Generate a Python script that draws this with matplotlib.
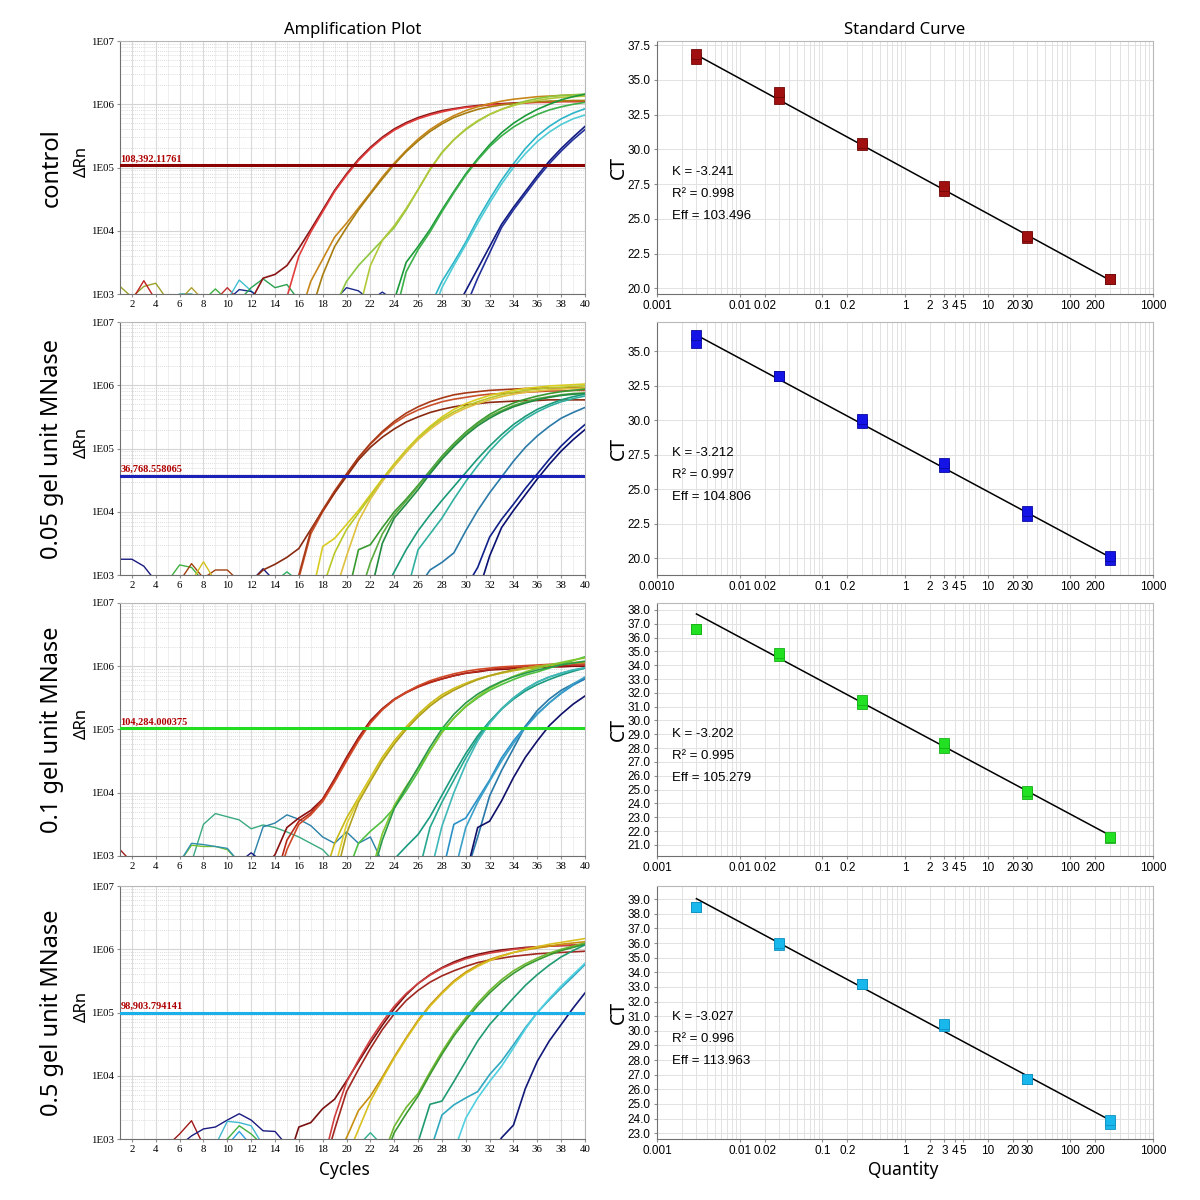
import matplotlib.pyplot as plt
from matplotlib import font_manager
from matplotlib.ticker import LogLocator, NullFormatter, MultipleLocator, FormatStrFormatter
import numpy as np

# ---------------- amplification data: log10(dRn) per cycle ----------------
# each curve starts at its own cycle and runs to cycle 40

ctrl_start = [12, 14, 16, 17, 19, 21, 24, 24, 27, 27, 29, 30]
ctrl_curves = [
    [2.9, 3.25, 3.31, 3.45, 3.72, 4.02, 4.33, 4.64, 4.9, 5.13, 5.32, 5.48, 5.61, 5.71, 5.79, 5.85, 5.9, 5.93, 5.96, 5.98, 6.0, 6.01, 6.02, 6.03, 6.04, 6.04, 6.05, 6.05, 6.05],
    [2.5, 2.95, 3.6, 3.98, 4.3, 4.62, 4.88, 5.11, 5.3, 5.46, 5.59, 5.69, 5.77, 5.83, 5.88, 5.92, 5.95, 5.97, 5.99, 6.0, 6.01, 6.02, 6.03, 6.03, 6.04, 6.04, 6.04],
    [2.6, 3.2, 3.55, 3.9, 4.12, 4.36, 4.6, 4.85, 5.07, 5.27, 5.45, 5.6, 5.72, 5.82, 5.9, 5.96, 6.01, 6.05, 6.08, 6.1, 6.12, 6.13, 6.14, 6.15, 6.15],
    [2.7, 3.3, 3.75, 4.05, 4.33, 4.58, 4.82, 5.05, 5.25, 5.42, 5.57, 5.69, 5.79, 5.86, 5.92, 5.96, 5.99, 6.01, 6.03, 6.04, 6.05, 6.05, 6.06, 6.06],
    [2.8, 3.2, 3.45, 3.65, 3.85, 4.05, 4.33, 4.65, 4.97, 5.24, 5.44, 5.6, 5.73, 5.84, 5.92, 5.99, 6.05, 6.09, 6.12, 6.14, 6.15, 6.16],
    [2.7, 3.45, 3.85, 4.08, 4.35, 4.65, 4.97, 5.23, 5.44, 5.61, 5.74, 5.84, 5.92, 5.98, 6.03, 6.06, 6.09, 6.11, 6.12, 6.13],
    [2.9, 3.5, 3.75, 4.02, 4.33, 4.62, 4.9, 5.14, 5.36, 5.55, 5.7, 5.82, 5.92, 6.0, 6.07, 6.12, 6.16],
    [2.6, 3.35, 3.7, 3.98, 4.3, 4.6, 4.88, 5.12, 5.33, 5.5, 5.64, 5.75, 5.84, 5.91, 5.96, 6.0, 6.03],
    [2.8, 3.2, 3.5, 3.82, 4.18, 4.5, 4.8, 5.06, 5.3, 5.5, 5.65, 5.77, 5.86, 5.93],
    [2.6, 3.1, 3.45, 3.78, 4.12, 4.44, 4.74, 5.0, 5.22, 5.41, 5.56, 5.68, 5.77, 5.83],
    [2.7, 3.05, 3.4, 3.75, 4.1, 4.37, 4.62, 4.87, 5.1, 5.3, 5.48, 5.65],
    [2.8, 3.25, 3.65, 4.05, 4.33, 4.58, 4.83, 5.06, 5.26, 5.44, 5.6],
]
ctrl_noise_start = [1, 2, 5, 6, 8, 9, 10, 10, 11, 19, 22]
ctrl_noise = [
    [3.12, 2.95, 3.12, 3.17, 2.9],
    [2.9, 3.21, 2.9],
    [2.9, 3.0, 3.0, 2.9],
    [2.9, 3.1, 2.9],
    [2.9, 3.08, 2.9],
    [2.9, 3.1, 2.9],
    [2.9, 3.22, 3.05, 2.9],
    [2.9, 3.07, 3.04, 2.9],
    [2.9, 3.1, 3.24, 3.1, 3.15, 2.9],
    [2.9, 3.1, 3.05, 2.9],
    [2.9, 3.03, 2.9],
]

mn005_start = [15, 12, 15, 17, 18, 19, 20, 21, 22, 23, 25, 26, 30, 31]
mn005_curves = [
    [2.5, 2.95, 3.65, 4.0, 4.3, 4.58, 4.85, 5.07, 5.25, 5.4, 5.52, 5.61, 5.68, 5.74, 5.78, 5.81, 5.84, 5.86, 5.87, 5.88, 5.89, 5.9, 5.91, 5.91, 5.92, 5.92],
    [2.9, 3.08, 3.17, 3.28, 3.42, 3.72, 4.02, 4.3, 4.56, 4.82, 5.02, 5.18, 5.31, 5.42, 5.5, 5.57, 5.62, 5.66, 5.69, 5.71, 5.73, 5.74, 5.75, 5.76, 5.76, 5.77, 5.77, 5.77, 5.77],
    [2.6, 3.0, 3.7, 4.03, 4.33, 4.6, 4.86, 5.08, 5.27, 5.43, 5.56, 5.66, 5.74, 5.8, 5.85, 5.88, 5.9, 5.92, 5.93, 5.94, 5.95, 5.95, 5.96, 5.96, 5.96, 5.96],
    [2.6, 3.45, 3.58, 3.8, 4.02, 4.27, 4.52, 4.76, 4.98, 5.18, 5.35, 5.5, 5.62, 5.71, 5.78, 5.84, 5.88, 5.92, 5.95, 5.97, 5.99, 6.0, 6.01, 6.02],
    [2.8, 3.35, 3.72, 3.98, 4.24, 4.5, 4.74, 4.96, 5.16, 5.33, 5.47, 5.58, 5.67, 5.74, 5.8, 5.85, 5.89, 5.92, 5.94, 5.96, 5.97, 5.98, 5.99],
    [2.7, 3.3, 3.85, 4.2, 4.48, 4.72, 4.94, 5.14, 5.3, 5.44, 5.55, 5.64, 5.71, 5.77, 5.82, 5.86, 5.89, 5.91, 5.93, 5.94, 5.95, 5.96],
    [2.6, 3.4, 3.48, 3.75, 4.0, 4.2, 4.42, 4.65, 4.88, 5.08, 5.26, 5.41, 5.54, 5.64, 5.72, 5.78, 5.83, 5.87, 5.9, 5.92, 5.94],
    [2.6, 3.2, 3.65, 3.95, 4.17, 4.4, 4.63, 4.86, 5.06, 5.24, 5.39, 5.51, 5.6, 5.68, 5.74, 5.79, 5.82, 5.85, 5.87, 5.88],
    [2.7, 3.5, 3.9, 4.12, 4.35, 4.6, 4.83, 5.03, 5.21, 5.36, 5.48, 5.58, 5.66, 5.72, 5.77, 5.81, 5.84, 5.86, 5.87],
    [2.7, 3.05, 3.4, 3.7, 3.95, 4.18, 4.4, 4.62, 4.84, 5.04, 5.22, 5.38, 5.51, 5.62, 5.7, 5.77, 5.82, 5.86],
    [2.7, 3.4, 3.65, 3.9, 4.2, 4.48, 4.73, 4.96, 5.16, 5.33, 5.47, 5.58, 5.67, 5.74, 5.79, 5.83],
    [2.8, 3.08, 3.2, 3.35, 3.7, 4.02, 4.3, 4.55, 4.8, 5.02, 5.2, 5.35, 5.48, 5.57, 5.65],
    [2.8, 3.12, 3.6, 3.88, 4.12, 4.37, 4.6, 4.83, 5.04, 5.22, 5.38],
    [2.7, 3.3, 3.75, 4.02, 4.27, 4.52, 4.75, 4.96, 5.14, 5.3],
]
mn005_noise_start = [1, 5, 6, 7, 12, 14]
mn005_noise = [
    [3.25, 3.25, 3.14, 2.9],
    [2.9, 3.16, 3.12, 2.9],
    [2.9, 3.18, 2.95, 3.08, 3.08, 2.9],
    [2.9, 3.21, 2.9],
    [2.9, 3.1, 2.9],
    [2.9, 3.05, 2.9],
]

mn01_start = [13, 14, 14, 18, 19, 19, 20, 22, 22, 23, 26, 27, 28, 30, 29, 30]
mn01_curves = [
    [2.8, 3.02, 3.45, 3.6, 3.72, 3.9, 4.22, 4.56, 4.87, 5.14, 5.33, 5.48, 5.59, 5.68, 5.75, 5.8, 5.85, 5.89, 5.91, 5.94, 5.95, 5.96, 5.97, 5.98, 5.99, 5.99, 6.0, 6.0],
    [2.6, 3.25, 3.55, 3.68, 3.9, 4.2, 4.54, 4.85, 5.12, 5.32, 5.47, 5.58, 5.67, 5.74, 5.8, 5.85, 5.89, 5.92, 5.95, 5.97, 5.98, 5.99, 6.0, 6.01, 6.01, 6.02, 6.02],
    [2.5, 3.1, 3.5, 3.65, 3.86, 4.17, 4.5, 4.82, 5.1, 5.31, 5.47, 5.59, 5.69, 5.77, 5.83, 5.88, 5.92, 5.95, 5.97, 5.99, 6.0, 6.01, 6.02, 6.03, 6.04, 6.05, 6.05],
    [2.6, 3.2, 3.6, 3.92, 4.24, 4.56, 4.82, 5.04, 5.24, 5.41, 5.55, 5.65, 5.73, 5.8, 5.85, 5.89, 5.93, 5.96, 5.98, 6.01, 6.03, 6.05, 6.07],
    [2.8, 3.5, 3.9, 4.22, 4.52, 4.79, 5.01, 5.21, 5.38, 5.52, 5.63, 5.72, 5.79, 5.85, 5.9, 5.94, 5.97, 6.0, 6.02, 6.04, 6.06, 6.07],
    [2.6, 3.35, 3.85, 4.18, 4.5, 4.77, 5.0, 5.2, 5.37, 5.51, 5.62, 5.71, 5.79, 5.85, 5.9, 5.94, 5.97, 6.0, 6.02, 6.04, 6.05, 6.06],
    [2.7, 3.2, 3.39, 3.55, 3.76, 4.03, 4.33, 4.66, 4.96, 5.18, 5.36, 5.5, 5.62, 5.71, 5.79, 5.86, 5.91, 5.97, 6.03, 6.09, 6.15],
    [2.7, 3.35, 3.8, 4.1, 4.38, 4.66, 4.95, 5.18, 5.37, 5.52, 5.65, 5.75, 5.84, 5.91, 5.97, 6.02, 6.06, 6.1, 6.13],
    [2.6, 3.25, 3.75, 4.08, 4.4, 4.72, 5.01, 5.24, 5.42, 5.56, 5.67, 5.76, 5.83, 5.89, 5.94, 5.98, 6.02, 6.05, 6.08],
    [2.8, 2.95, 3.15, 3.34, 3.62, 3.96, 4.3, 4.62, 4.9, 5.13, 5.32, 5.48, 5.61, 5.71, 5.79, 5.86, 5.92, 5.97],
    [2.7, 3.45, 3.85, 4.2, 4.55, 4.86, 5.12, 5.33, 5.5, 5.64, 5.75, 5.83, 5.89, 5.94, 5.97],
    [2.7, 3.47, 4.0, 4.45, 4.82, 5.1, 5.32, 5.5, 5.64, 5.75, 5.83, 5.89, 5.94, 5.98],
    [2.7, 3.5, 3.6, 3.9, 4.2, 4.55, 4.82, 5.05, 5.25, 5.42, 5.57, 5.7, 5.8],
    [2.7, 3.3, 3.95, 4.35, 4.7, 5.05, 5.3, 5.48, 5.62, 5.72, 5.8],
    [2.7, 3.45, 3.85, 4.18, 4.5, 4.78, 5.03, 5.24, 5.42, 5.58, 5.72, 5.83],
    [2.7, 3.45, 3.55, 3.87, 4.24, 4.56, 4.82, 5.06, 5.24, 5.4, 5.53],
]
mn01_noise_start = [7, 12, 6, 6, 1, 11]
mn01_noise = [
    [2.9, 3.5, 3.67, 3.62, 3.57, 3.43, 3.49, 3.45, 3.38, 3.3, 3.2, 3.1, 2.9],
    [2.9, 3.46, 3.52, 3.65, 3.58, 3.48, 3.3, 3.2, 3.38, 3.2, 3.3, 2.9],
    [2.9, 3.17, 3.15, 3.15, 3.1, 2.9],
    [2.9, 3.2, 3.18, 3.15, 3.12, 2.9],
    [3.1, 2.9],
    [2.9, 3.05, 2.9],
]

mn05_start = [15, 18, 18, 19, 20, 23, 23, 25, 27, 29, 32]
mn05_curves = [
    [2.6, 3.19, 3.26, 3.48, 3.63, 3.92, 4.22, 4.52, 4.8, 5.06, 5.28, 5.46, 5.6, 5.71, 5.8, 5.87, 5.92, 5.96, 5.99, 6.01, 6.03, 6.04, 6.05, 6.06, 6.06, 6.07],
    [2.6, 3.35, 3.9, 4.25, 4.57, 4.85, 5.1, 5.3, 5.46, 5.59, 5.7, 5.78, 5.85, 5.9, 5.94, 5.97, 6.0, 6.02, 6.04, 6.05, 6.06, 6.07, 6.08],
    [2.5, 3.15, 3.75, 4.1, 4.43, 4.73, 4.98, 5.19, 5.35, 5.48, 5.58, 5.66, 5.73, 5.79, 5.83, 5.86, 5.89, 5.91, 5.93, 5.94, 5.95, 5.96, 5.97],
    [2.7, 3.02, 3.45, 3.68, 3.98, 4.3, 4.6, 4.88, 5.12, 5.32, 5.5, 5.64, 5.75, 5.84, 5.9, 5.95, 5.99, 6.02, 6.05, 6.08, 6.1, 6.12],
    [2.7, 3.15, 3.6, 3.95, 4.28, 4.58, 4.86, 5.1, 5.3, 5.48, 5.62, 5.73, 5.82, 5.89, 5.95, 6.0, 6.04, 6.08, 6.11, 6.14, 6.17],
    [2.7, 3.2, 3.5, 3.72, 4.06, 4.38, 4.67, 4.92, 5.15, 5.35, 5.52, 5.66, 5.77, 5.86, 5.94, 6.0, 6.05, 6.1],
    [2.6, 3.1, 3.4, 3.68, 4.02, 4.34, 4.63, 4.88, 5.11, 5.31, 5.48, 5.62, 5.74, 5.83, 5.91, 5.98, 6.03, 6.08],
    [2.6, 2.95, 3.55, 3.6, 3.91, 4.23, 4.55, 4.81, 5.02, 5.23, 5.43, 5.6, 5.75, 5.88, 5.98, 6.07],
    [2.8, 3.38, 3.54, 3.65, 3.75, 4.02, 4.23, 4.49, 4.76, 5.0, 5.2, 5.39, 5.57, 5.76],
    [2.8, 3.33, 3.65, 3.91, 4.15, 4.44, 4.74, 5.0, 5.22, 5.42, 5.6, 5.78],
    [2.7, 3.02, 3.22, 3.8, 4.23, 4.55, 4.81, 5.07, 5.31],
]
mn05_noise_start = [5, 6, 9, 9, 10, 21]
mn05_noise = [
    [2.9, 3.08, 3.29, 2.9],
    [2.9, 3.05, 3.16, 3.19, 3.3, 3.4, 3.3, 3.13, 3.12, 2.9],
    [2.9, 3.28, 3.26, 3.21, 2.9],
    [2.9, 3.0, 3.21, 3.08, 2.9],
    [2.9, 3.12, 2.9],
    [2.9, 3.1, 2.9],
]

thresholds = [108392.11761, 36768.558065, 104284.000375, 98903.794141]
threshold_labels = ['108,392.11761', '36,768.558065', '104,284.000375', '98,903.794141']

# ---------------- standard curve data ----------------
quantity = [0.003, 0.03, 0.3, 3, 30, 300]
ctrl_ct = [[36.5, 36.9], [33.6, 34.1], [30.3, 30.5], [27.0, 27.4], [23.6, 23.8], [20.7, 20.7]]
mn005_ct = [[35.6, 36.2], [33.2, 33.2], [29.8, 30.1], [26.6, 26.9], [23.1, 23.4], [19.9, 20.2]]
mn01_ct = [[36.6, 36.6], [34.7, 34.9], [31.2, 31.5], [28.0, 28.4], [24.7, 24.9], [21.5, 21.6]]
mn05_ct = [[38.5, 38.5], [35.9, 36.0], [33.2, 33.2], [30.3, 30.5], [26.7, 26.7], [23.6, 23.9]]

slope_k = [-3.241, -3.212, -3.202, -3.027]
ct_at_one = [28.63, 28.06, 29.63, 31.40]
r_squared = ['0.998', '0.997', '0.995', '0.996']
efficiency = ['103.496', '104.806', '105.279', '113.963']

row_labels = ['control', '0.05 gel unit MNase', '0.1 gel unit MNase', '0.5 gel unit MNase']

qty_ticks = [0.001, 0.01, 0.02, 0.1, 0.2, 1, 2, 3, 4, 5, 10, 20, 30, 100, 200, 1000]
qty_labels = ['0.001', '0.01', '0.02', '0.1', '0.2', '1', '2', '3', '4', '5', '10', '20', '30', '100', '200', '1000']

# ---------------- styles ----------------
ctrl_colors = ['#8b1515', '#e23c3c', '#c8861a', '#a87d10', '#8cc63f', '#b2c83a',
               '#1a9a3a', '#3cb04a', '#2cb5c8', '#50ccd6', '#101a80', '#23309a']
mn005_colors = ['#c8502a', '#8a2a10', '#a83a18', '#d8cc20', '#b8c828', '#e0c040', '#3a9a30',
                '#5aaa40', '#208a40', '#1a9a78', '#30b0a0', '#2a7aa8', '#10208a', '#0a1070']
mn01_colors = ['#8a1010', '#b82818', '#d04a28', '#c8b818', '#e0d030', '#b0a020', '#50c040', '#80c830',
               '#2a9a4a', '#1a9a80', '#28a890', '#40b8b8', '#2a90c8', '#2878a8', '#3aa0c8', '#10106a']
mn05_colors = ['#7a1010', '#d04040', '#a02820', '#c89010', '#d8c020', '#70b830', '#3a9a30',
               '#209a70', '#30a8c0', '#50d0e0', '#101878']
ctrl_noise_colors = ['#9aa028', '#c02020', '#30a0a0', '#b0a030', '#40b040', '#c03030',
                     '#40c0d0', '#1a2a8a', '#2aa050', '#1a2a8a', '#1a2a8a']
mn005_noise_colors = ['#1a1a80', '#40b040', '#a04010', '#d0c020', '#1a1a80', '#30b060']
mn01_noise_colors = ['#3aaa80', '#2a80a8', '#70c030', '#3090b0', '#a02020', '#1a1a80']
mn05_noise_colors = ['#a01818', '#1a1a80', '#40b8d0', '#40b040', '#30a0e0', '#30b090']

threshold_colors = ['#8b0000', '#1a22b8', '#22dd22', '#1ab0ea']
point_colors = ['#a01010', '#1414e6', '#22e022', '#18b8ec']
point_edges = ['#700808', '#0a0aa0', '#18b018', '#1090c0']

names = {f.name for f in font_manager.fontManager.ttflist}
narrow = 'Liberation Sans Narrow' if 'Liberation Sans Narrow' in names else 'Liberation Sans'
serif = 'Liberation Serif'
sans = 'Noto Sans'

amp_rows = [
    (ctrl_start, ctrl_curves, ctrl_colors, ctrl_noise_start, ctrl_noise, ctrl_noise_colors),
    (mn005_start, mn005_curves, mn005_colors, mn005_noise_start, mn005_noise, mn005_noise_colors),
    (mn01_start, mn01_curves, mn01_colors, mn01_noise_start, mn01_noise, mn01_noise_colors),
    (mn05_start, mn05_curves, mn05_colors, mn05_noise_start, mn05_noise, mn05_noise_colors),
]
ct_rows = [ctrl_ct, mn005_ct, mn01_ct, mn05_ct]
ct_limits = [(19.6, 37.8), (18.8, 37.1), (20.2, 38.5), (22.6, 39.9)]
ct_ticks = [np.arange(20, 37.6, 2.5), np.arange(20, 35.1, 2.5), np.arange(21, 38.1, 1), np.arange(23, 39.1, 1)]

fig = plt.figure(figsize=(12, 12), dpi=100)
bottoms = [0.755, 0.5208, 0.2867, 0.0508]
height = 0.2108


def style_frame(ax):
    for side in ['top', 'right']:
        ax.spines[side].set_color('#b8b8b8')
    for side in ['left', 'bottom']:
        ax.spines[side].set_color('#707070')
    ax.tick_params(which='both', length=2.5, color='#909090', pad=2)
    ax.tick_params(which='minor', length=0)


for i in range(4):
    starts, curves, colors, n_starts, n_curves, n_colors = amp_rows[i]

    # amplification plot
    ax = fig.add_axes([0.1, bottoms[i], 0.3875, height])
    for s, v, c in zip(n_starts, n_curves, n_colors):
        x = np.arange(s, s + len(v))
        ax.plot(x, 10.0 ** np.array(v), color=c, lw=1.0)
    for s, v, c in zip(starts, curves, colors):
        x = np.arange(s, s + len(v))
        ax.plot(x, 10.0 ** np.array(v), color=c, lw=1.2)
    ax.axhline(thresholds[i], color=threshold_colors[i], lw=2.2, zorder=5)
    ax.text(1.05, thresholds[i] * 1.07, threshold_labels[i], color='#b00000',
            fontsize=7.5, family=serif, fontweight='bold', ha='left', va='bottom', zorder=6)
    ax.set_yscale('log')
    ax.set_xlim(1, 40)
    ax.set_ylim(1e3, 1e7)
    ax.set_xticks(np.arange(2, 41, 2))
    ax.xaxis.set_minor_locator(MultipleLocator(1))
    ax.set_yticks([1e3, 1e4, 1e5, 1e6, 1e7])
    ax.set_yticklabels(['1E03', '1E04', '1E05', '1E06', '1E07'])
    ax.yaxis.set_minor_locator(LogLocator(base=10, subs=np.arange(2, 10)))
    ax.yaxis.set_minor_formatter(NullFormatter())
    ax.xaxis.grid(True, which='major', color='#dadada', lw=0.8)
    ax.xaxis.grid(True, which='minor', color='#ececec', lw=0.6)
    ax.yaxis.grid(True, which='major', color='#d4d4d4', lw=0.8)
    ax.yaxis.grid(True, which='minor', color='#d0d0d0', lw=0.6, ls=(0, (1, 1.5)))
    ax.set_axisbelow(True)
    style_frame(ax)
    for lbl in ax.get_xticklabels() + ax.get_yticklabels():
        lbl.set_family(serif)
        lbl.set_fontsize(7.8)
    center = bottoms[i] + height / 2
    fig.text(0.043, center, row_labels[i], rotation=90, ha='center', va='center',
             fontsize=17, family=sans)
    fig.text(0.068, center + 0.005, 'ΔRn', rotation=90, ha='center', va='center',
             fontsize=12, family=sans)
    if i == 0:
        ax.set_title('Amplification Plot', fontsize=12, family=sans, pad=5)

    # standard curve
    bx = fig.add_axes([0.5475, bottoms[i], 0.4133, height])
    q_line = np.array([quantity[0], quantity[-1]])
    bx.plot(q_line, ct_at_one[i] + slope_k[i] * np.log10(q_line), color='black', lw=1.1, zorder=3)
    for q, reps in zip(quantity, ct_rows[i]):
        bx.plot([q] * len(reps), reps, 's', ms=6.5, color=point_colors[i],
                mec=point_edges[i], mew=0.6, zorder=4, ls='none')
    bx.set_xscale('log')
    bx.set_xlim(0.001, 1000)
    bx.set_ylim(*ct_limits[i])
    bx.set_xticks(qty_ticks)
    labels = list(qty_labels)
    if i == 1:
        labels[0] = '0.0010'
    bx.set_xticklabels(labels)
    bx.xaxis.set_minor_locator(LogLocator(base=10, subs=np.arange(2, 10)))
    bx.xaxis.set_minor_formatter(NullFormatter())
    bx.set_yticks(ct_ticks[i])
    bx.yaxis.set_major_formatter(FormatStrFormatter('%.1f'))
    bx.xaxis.grid(True, which='both', color='#e2e2e2', lw=0.7)
    bx.yaxis.grid(True, which='major', color='#e2e2e2', lw=0.7)
    bx.set_axisbelow(True)
    style_frame(bx)
    for lbl in bx.get_xticklabels() + bx.get_yticklabels():
        lbl.set_family(narrow)
        lbl.set_fontsize(8.5)
    bx.text(0.03, 0.482, 'K = %.3f' % slope_k[i], transform=bx.transAxes,
            fontsize=9.5, family=narrow, va='center')
    bx.text(0.03, 0.395, 'R² = ' + r_squared[i], transform=bx.transAxes,
            fontsize=9.5, family=narrow, va='center')
    bx.text(0.03, 0.308, 'Eff = ' + efficiency[i], transform=bx.transAxes,
            fontsize=9.5, family=narrow, va='center')
    fig.text(0.516, center, 'CT', rotation=90, ha='center', va='center',
             fontsize=14, family=sans)
    if i == 0:
        bx.set_title('Standard Curve', fontsize=12, family=sans, pad=5)

fig.text(0.287, 0.025, 'Cycles', ha='center', va='center', fontsize=12.5, family=sans)
fig.text(0.753, 0.025, 'Quantity', ha='center', va='center', fontsize=12.5, family=sans)

fig.savefig('out.png', dpi=100)
